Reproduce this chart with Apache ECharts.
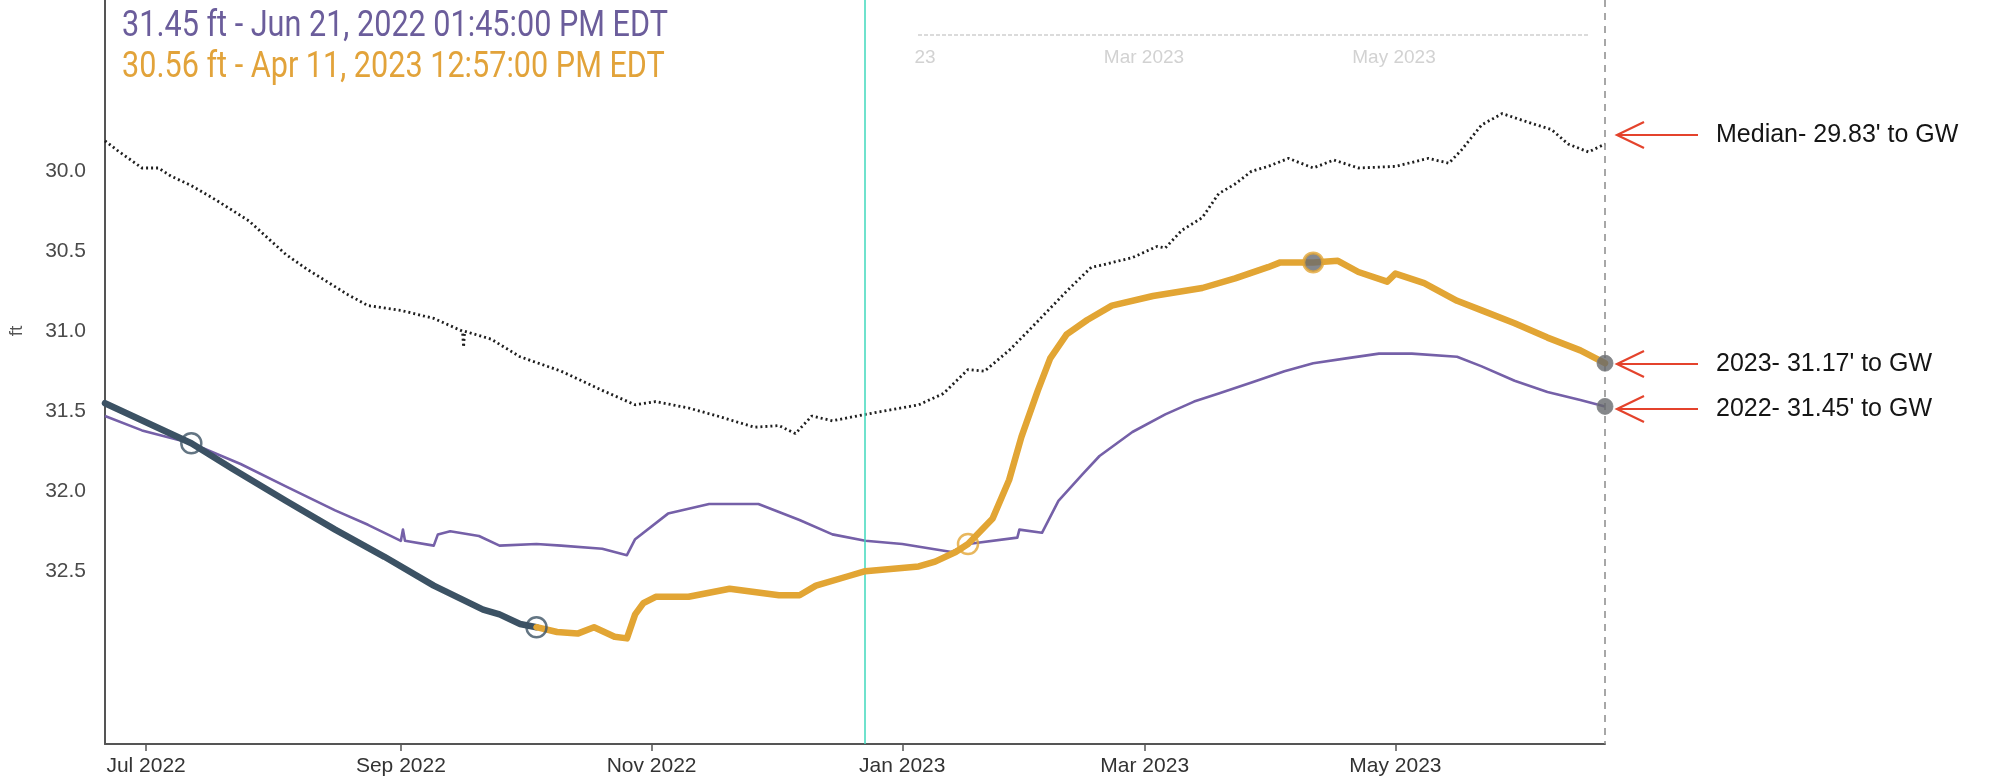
<!DOCTYPE html>
<html>
<head>
<meta charset="utf-8">
<script src="https://cdn.jsdelivr.net/npm/echarts@6/dist/echarts.min.js"></script>
<style>
html,body{margin:0;padding:0;background:#fff;}
#chart{width:2010px;height:780px;}
</style>
</head>
<body>
<div id="chart"></div>
<script>
// ---------------- data ----------------
const medianSeries = [
  ['2022-06-21',29.81],['2022-06-24',29.87],['2022-06-30',29.98],['2022-07-04',29.98],['2022-07-07',30.03],
  ['2022-07-12',30.09],['2022-07-18',30.18],['2022-07-26',30.31],['2022-08-04',30.52],['2022-08-09',30.61],
  ['2022-08-19',30.77],['2022-08-24',30.84],['2022-09-01',30.87],['2022-09-09',30.92],['2022-09-16',31.00],
  ['2022-09-16 06',31.10],['2022-09-16 12',31.00],['2022-09-23',31.05],['2022-09-30',31.16],['2022-10-10',31.25],
  ['2022-10-20',31.37],['2022-10-28',31.46],['2022-11-02',31.44],['2022-11-10',31.48],['2022-11-17',31.53],
  ['2022-11-26',31.60],['2022-12-02',31.59],['2022-12-06',31.64],['2022-12-10',31.53],['2022-12-15',31.56],
  ['2022-12-23',31.52],['2023-01-05',31.46],['2023-01-11',31.39],['2023-01-17',31.24],['2023-01-21',31.25],
  ['2023-01-27',31.12],['2023-02-01',30.99],['2023-02-04',30.91],['2023-02-10',30.75],['2023-02-16',30.60],
  ['2023-02-18',30.59],['2023-02-26',30.54],['2023-03-04',30.47],['2023-03-06',30.48],['2023-03-10',30.37],
  ['2023-03-15',30.29],['2023-03-19',30.14],['2023-03-23',30.08],['2023-03-27',30.00],['2023-03-31',29.97],
  ['2023-04-05',29.92],['2023-04-11',29.98],['2023-04-16',29.93],['2023-04-22',29.98],['2023-05-01',29.97],
  ['2023-05-09',29.92],['2023-05-14',29.95],['2023-05-17',29.87],['2023-05-22',29.71],['2023-05-27',29.64],
  ['2023-06-03',29.70],['2023-06-08',29.74],['2023-06-12',29.83],['2023-06-17',29.88],['2023-06-21',29.83]
];
const series2022 = [
  ['2022-06-21',31.53],['2022-06-30',31.62],['2022-07-12',31.70],['2022-07-24',31.83],['2022-08-04',31.97],
  ['2022-08-16',32.12],['2022-08-24',32.21],['2022-09-01',32.31],['2022-09-01 12',32.24],['2022-09-02',32.31],
  ['2022-09-09',32.34],['2022-09-10',32.27],['2022-09-13',32.25],['2022-09-20',32.28],['2022-09-25',32.34],
  ['2022-10-04',32.33],['2022-10-10',32.34],['2022-10-20',32.36],['2022-10-26',32.40],['2022-10-28',32.30],
  ['2022-11-05',32.14],['2022-11-15',32.08],['2022-11-27',32.08],['2022-12-07',32.18],['2022-12-15',32.27],
  ['2022-12-23',32.31],['2023-01-01',32.33],['2023-01-13',32.38],['2023-01-17',32.33],['2023-01-29',32.29],
  ['2023-01-29 12',32.24],['2023-02-04',32.26],['2023-02-08',32.06],['2023-02-14',31.89],['2023-02-18',31.78],
  ['2023-02-26',31.63],['2023-03-06',31.52],['2023-03-13',31.44],['2023-03-19',31.39],['2023-03-27',31.32],
  ['2023-04-04',31.25],['2023-04-11',31.20],['2023-04-19',31.17],['2023-04-27',31.14],['2023-05-05',31.14],
  ['2023-05-16',31.16],['2023-05-22',31.22],['2023-05-30',31.31],['2023-06-07',31.38],['2023-06-15',31.43],
  ['2023-06-21',31.47]
];
const seriesApproved = [
  ['2022-06-21',31.45],['2022-07-12',31.70],['2022-07-22',31.86],['2022-08-04',32.06],['2022-08-16',32.24],
  ['2022-08-28',32.41],['2022-09-09',32.59],['2022-09-21',32.74],['2022-09-25',32.77],['2022-09-30',32.83],
  ['2022-10-04',32.85]
];
const series2023 = [
  ['2022-10-04',32.85],['2022-10-09',32.88],['2022-10-14',32.89],['2022-10-18',32.85],['2022-10-23',32.91],
  ['2022-10-26',32.92],['2022-10-28',32.77],['2022-10-30',32.70],['2022-11-02',32.66],['2022-11-10',32.66],
  ['2022-11-20',32.61],['2022-12-02',32.65],['2022-12-07',32.65],['2022-12-11',32.59],['2022-12-19',32.53],
  ['2022-12-23',32.50],['2023-01-05',32.47],['2023-01-09',32.44],['2023-01-14',32.38],['2023-01-17',32.33],
  ['2023-01-23',32.17],['2023-01-27',31.93],['2023-01-30',31.66],['2023-02-03',31.37],['2023-02-06',31.17],
  ['2023-02-10',31.02],['2023-02-15',30.93],['2023-02-21',30.84],['2023-03-03',30.78],['2023-03-15',30.73],
  ['2023-03-23',30.67],['2023-03-31',30.60],['2023-04-03',30.57],['2023-04-11',30.57],['2023-04-17',30.56],
  ['2023-04-22',30.63],['2023-04-29',30.69],['2023-05-01',30.64],['2023-05-08',30.70],['2023-05-16',30.81],
  ['2023-05-22',30.87],['2023-05-30',30.95],['2023-06-07',31.04],['2023-06-15',31.12],['2023-06-21',31.20]
];
const approvedCircles = [['2022-07-12',31.70],['2022-10-04',32.85]];
const provisionalCircles = [['2023-01-17',32.33]];
const hoverPoint = [['2023-04-11',30.57]];
const endPoints = [['2023-06-21',31.20],['2023-06-21',31.47]];
const startDate = '2022-06-21';
const cursorDate = '2022-12-22 20';
const endDate = '2023-06-21';
const xTickDates = ['2022-07-01','2022-09-01','2022-11-01','2023-01-01','2023-03-01','2023-05-01'];
const xTickLabels = ['Jul 2022','Sep 2022','Nov 2022','Jan 2023','Mar 2023','May 2023'];
const yTickValues = [30.0,30.5,31.0,31.5,32.0,32.5];
const tooltipLines = ['31.45 ft - Jun 21, 2022 01:45:00 PM EDT','30.56 ft - Apr 11, 2023 12:57:00 PM EDT'];
const annotationLabels = ["Median- 29.83' to GW","2023- 31.17' to GW","2022- 31.45' to GW"];
const ghostLabels = ['23','Mar 2023','May 2023'];

// ---------------- helpers ----------------
function ts(s){
  const parts = s.split(' ');
  const d = parts[0].split('-').map(Number);
  const h = parts[1] ? Number(parts[1]) : 0;
  return new Date(d[0], d[1]-1, d[2], h).getTime();
}
const toPts = arr => arr.map(p => [ts(p[0]), p[1]]);
const xTickTs = xTickDates.map(ts);

const chart = echarts.init(document.getElementById('chart'), null, {renderer:'canvas'});

const C_PURPLE = '#7560a8';
const C_DARK = '#3c5264';
const C_ORANGE = '#e2a534';
const C_RED = '#e4432c';

function arrow(y){
  return [
    {type:'line', shape:{x1:1617,y1:y,x2:1698,y2:y}, style:{stroke:C_RED,lineWidth:2.2}},
    {type:'polyline', shape:{points:[[1644,y-13],[1617,y],[1644,y+13]]}, style:{stroke:C_RED,lineWidth:2.2,fill:null}}
  ];
}
const annY = [135, 364, 409];
const graphics = [];
annY.forEach((y,i)=>{
  graphics.push(...arrow(y));
  graphics.push({type:'text', x:1716, y:y, style:{text:annotationLabels[i], font:'25px "Liberation Sans", Arial, sans-serif', fill:'#151515', align:'left', verticalAlign:'middle'}});
});
const tipFont = '36px Roboto, "Liberation Sans", sans-serif';
graphics.push({type:'text', x:122, y:27, scaleX:0.85, style:{text:tooltipLines[0], font:tipFont, fill:'#6b5d9b', align:'left', verticalAlign:'middle'}});
graphics.push({type:'text', x:122, y:68, scaleX:0.85, style:{text:tooltipLines[1], font:tipFont, fill:'#e2a33a', align:'left', verticalAlign:'middle'}});
graphics.push({type:'text', x:17, y:331, rotation:Math.PI/2, style:{text:'ft', font:'19px "Liberation Sans", Arial, sans-serif', fill:'#555', align:'center', verticalAlign:'middle'}});
// faint show-through artifacts at the top
graphics.push({type:'line', shape:{x1:918,y1:35,x2:1588,y2:35}, style:{stroke:'#cfcfcf',lineWidth:1.5,lineDash:[4,2]}});
[[925,58],[1144,58],[1394,58]].forEach((p,i)=>{
  graphics.push({type:'text', x:p[0], y:p[1], style:{text:ghostLabels[i], font:'19px "Liberation Sans", sans-serif', fill:'#d2d2d2', align:'center', verticalAlign:'middle'}});
});

const option = {
  animation:false,
  backgroundColor:'#ffffff',
  grid:{left:105, right:405, top:0, bottom:36, containLabel:false, outerBoundsMode:'none'},
  xAxis:{
    type:'value',
    min:ts(startDate), max:ts(endDate),
    axisLine:{onZero:false, lineStyle:{color:'#555', width:2}},
    axisTick:{show:true, customValues:xTickTs, length:7, lineStyle:{color:'#555', width:1.5}},
    axisLabel:{
      customValues:xTickTs,
      formatter:function(v){ const i = xTickTs.indexOf(v); return i>=0 ? xTickLabels[i] : ''; },
      color:'#333', fontSize:21, fontFamily:'"Liberation Sans", Arial, sans-serif', margin:12
    },
    splitLine:{show:false}
  },
  yAxis:{
    type:'value', inverse:true, min:28.93, max:33.58,
    axisLine:{show:true, lineStyle:{color:'#555', width:2}},
    axisTick:{show:false},
    axisLabel:{
      customValues:yTickValues,
      formatter:function(v){ return Number(v).toFixed(1); },
      color:'#4a4a4a', fontSize:21, fontFamily:'"Liberation Sans", Arial, sans-serif', margin:19
    },
    splitLine:{show:false}
  },
  graphic:graphics,
  series:[
    {
      name:'Median', type:'line', data:toPts(medianSeries), showSymbol:false, symbol:'none',
      lineStyle:{color:'#1e1e1e', width:2.8, type:[2,3]}, z:2,
      markLine:{
        silent:true, symbol:'none', label:{show:false},
        data:[
          {xAxis:ts(cursorDate), lineStyle:{color:'#3fd9bd', width:1.5, type:'solid'}},
          {xAxis:ts(endDate), lineStyle:{color:'#8a8a8a', width:1.5, type:[7,6]}}
        ]
      }
    },
    {name:'2022', type:'line', data:toPts(series2022), symbol:'none', lineStyle:{color:C_PURPLE, width:2.6, join:'round'}, z:3},
    {name:'Approved', type:'line', data:toPts(seriesApproved), symbol:'none', lineStyle:{color:C_DARK, width:6.5, join:'round', cap:'round'}, z:4},
    {name:'2023', type:'line', data:toPts(series2023), symbol:'none', lineStyle:{color:C_ORANGE, width:6.5, join:'round', cap:'round'}, z:5},
    {type:'scatter', data:toPts(approvedCircles), symbol:'circle', symbolSize:20,
      itemStyle:{color:'rgba(255,255,255,0)', borderColor:C_DARK, borderWidth:2.5}, z:6},
    {type:'scatter', data:toPts(provisionalCircles), symbol:'circle', symbolSize:20,
      itemStyle:{color:'rgba(255,255,255,0)', borderColor:C_ORANGE, borderWidth:2.5}, z:6},
    {type:'scatter', data:toPts(hoverPoint), symbol:'circle', symbolSize:19,
      itemStyle:{color:'#676a70', borderColor:C_ORANGE, borderWidth:3}, z:7},
    {type:'scatter', data:toPts(endPoints), symbol:'circle', symbolSize:16,
      itemStyle:{color:'#67696d', borderColor:'#7d7f82', borderWidth:1}, z:7}
  ]
};
chart.setOption(option);
</script>
</body>
</html>
